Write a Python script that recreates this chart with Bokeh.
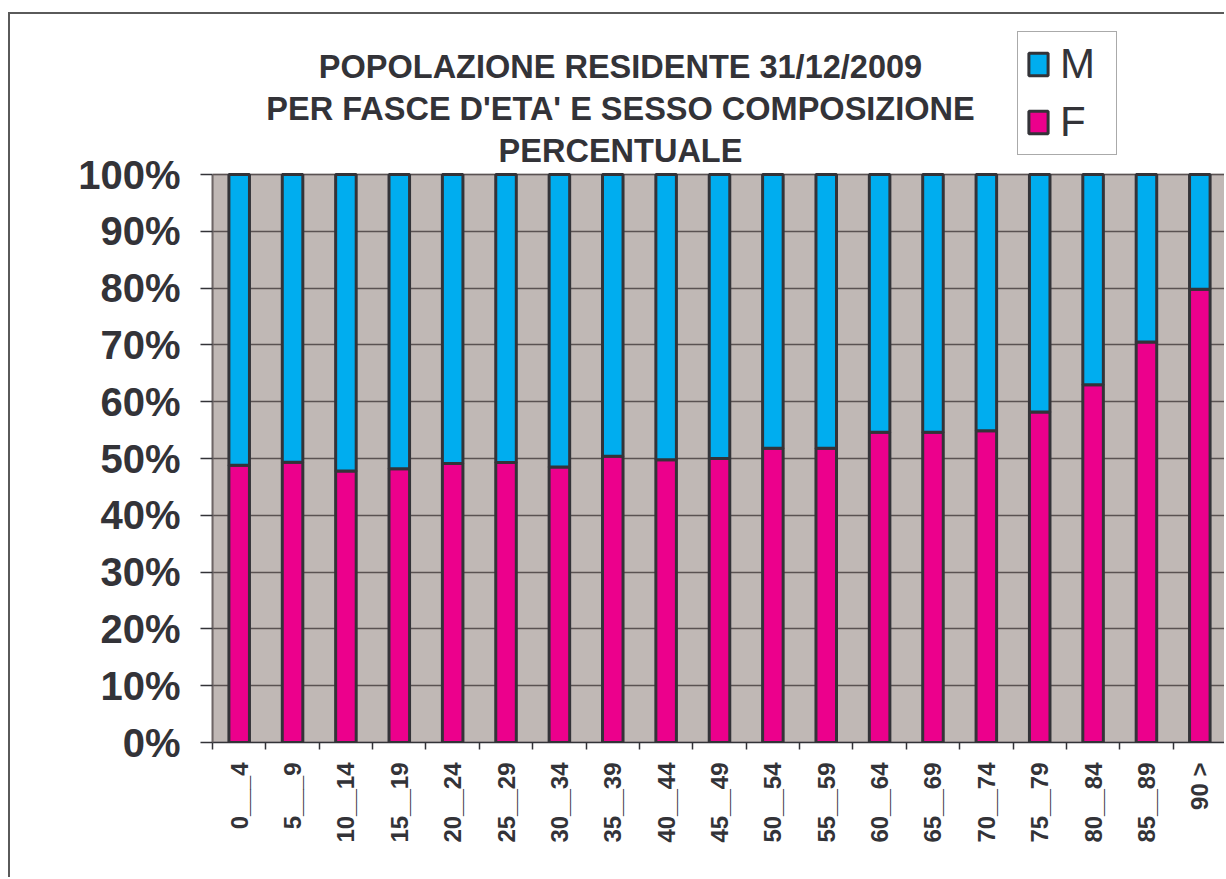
import math
from bokeh.plotting import figure
from bokeh.models import (FixedTicker, PrintfTickFormatter, Label, Legend, LegendItem,
                          ColumnDataSource, Range1d, BoxAnnotation)
from bokeh.embed import file_html
from bokeh.resources import INLINE

categories = ["0___4", "5___9", "10__14", "15__19", "20__24", "25__29", "30__34",
              "35__39", "40__44", "45__49", "50__54", "55__59", "60__64", "65__69",
              "70__74", "75__79", "80__84", "85__89", "90 >"]
female_pct = [48.8, 49.35, 47.8, 48.2, 49.1, 49.3, 48.5, 50.4, 49.8, 50.0,
              51.8, 51.8, 54.6, 54.6, 54.9, 58.2, 63.0, 70.5, 79.8]
male_pct = [51.2, 50.65, 52.2, 51.8, 50.9, 50.7, 51.5, 49.6, 50.2, 50.0,
            48.2, 48.2, 45.4, 45.4, 45.1, 41.8, 37.0, 29.5, 20.2]
title_lines = ["POPOLAZIONE RESIDENTE 31/12/2009",
               "PER FASCE D'ETA' E SESSO COMPOSIZIONE",
               "PERCENTUALE"]
y_ticks = [0, 10, 20, 30, 40, 50, 60, 70, 80, 90, 100]

FONT = "Liberation Sans"
TXT = "#333338"
BLUE = "#00ADEF"
PINK = "#EC008C"
EDGE = "#333338"
PLOT_BG = "#C0B8B5"

# layout (pixels): frame spans the top of the canvas so that title/legend are not clipped
FRAME_H = 728          # frame height in px
AXIS_H = 568           # px for 0..100 %
y_top = 100 * FRAME_H / AXIS_H

xpos = [i + 0.5 for i in range(len(categories))]
source = ColumnDataSource(dict(x=xpos, F=female_pct, M=male_pct))

p = figure(width=1216, height=865, output_backend="svg", toolbar_location=None,
           title=None,
           x_range=Range1d(0, len(categories)), y_range=Range1d(0, y_top),
           min_border_left=202, min_border_right=0, min_border_top=0,
           min_border_bottom=865 - FRAME_H)
p.styles = {"margin-left": "8px", "margin-top": "12px",
            "border-left": "2px solid #5a5a5a", "border-top": "2px solid #5a5a5a"}
p.background_fill_color = "white"
p.border_fill_color = "white"
p.outline_line_color = None

# grey plotting area 0..100 %
p.add_layout(BoxAnnotation(left=0, right=len(categories), bottom=0, top=100,
                           fill_color=PLOT_BG, fill_alpha=1,
                           line_color="#7a7272", line_width=2, level="image"))

renderers = p.vbar_stack(["F", "M"], x="x", width=0.385, source=source,
                         fill_color=[PINK, BLUE], line_color=EDGE, line_width=3)
rF, rM = renderers

# y axis
p.yaxis.ticker = FixedTicker(ticks=y_ticks)
p.yaxis.bounds = (0, 100)
p.yaxis.formatter = PrintfTickFormatter(format="%d%%")
p.yaxis.major_label_text_font = FONT
p.yaxis.major_label_text_font_style = "bold"
p.yaxis.major_label_text_font_size = "40px"
p.yaxis.major_label_text_color = TXT
p.yaxis.major_label_standoff = 20
p.yaxis.major_tick_out = 12
p.yaxis.major_tick_in = 0
p.yaxis.major_tick_line_color = EDGE
p.yaxis.major_tick_line_width = 1.5
p.yaxis.minor_tick_line_color = None
p.yaxis.axis_line_color = "#6e6666"
p.yaxis.axis_line_width = 2

# x axis: labels at centres, ticks at category boundaries
p.xaxis.ticker = FixedTicker(ticks=xpos, minor_ticks=list(range(len(categories) + 1)))
p.xaxis.major_label_overrides = {x: c for x, c in zip(xpos, categories)}
p.xaxis.major_label_orientation = math.pi / 2
p.xaxis.major_label_text_font = FONT
p.xaxis.major_label_text_font_style = "bold"
p.xaxis.major_label_text_font_size = "24px"
p.xaxis.major_label_text_color = TXT
p.xaxis.major_label_standoff = 13
p.xaxis.major_tick_out = 0
p.xaxis.major_tick_in = 0
p.xaxis.major_tick_line_color = None
p.xaxis.minor_tick_out = 7
p.xaxis.minor_tick_in = 0
p.xaxis.minor_tick_line_color = EDGE
p.xaxis.minor_tick_line_width = 1.5
p.xaxis.axis_line_color = EDGE
p.xaxis.axis_line_width = 1.5

p.xgrid.grid_line_color = None
p.ygrid.ticker = FixedTicker(ticks=y_ticks)
p.ygrid.grid_line_color = "#5a5252"
p.ygrid.grid_line_width = 1.5

# title (three centred lines)
for i, line in enumerate(title_lines):
    p.add_layout(Label(x=408, y=676 - 42 * i, x_units="screen", y_units="screen",
                       text=line, text_align="center", text_baseline="middle",
                       text_font=FONT, text_font_style="bold", text_font_size="32.5px",
                       text_color=TXT))

legend = Legend(items=[LegendItem(label="M", renderers=[rM]),
                       LegendItem(label="F", renderers=[rF])],
                location=(805, 587))
legend.label_text_font = FONT
legend.label_text_font_size = "42px"
legend.label_text_color = TXT
legend.glyph_width = 24
legend.glyph_height = 28
legend.label_standoff = 10
legend.label_width = 48
legend.padding = 8
legend.spacing = 10
legend.margin = 0
legend.border_line_color = "#555555"
legend.border_line_width = 1.5
legend.background_fill_color = "white"
legend.background_fill_alpha = 1
p.add_layout(legend, "center")

open("out.html", "w").write(file_html(p, INLINE))
